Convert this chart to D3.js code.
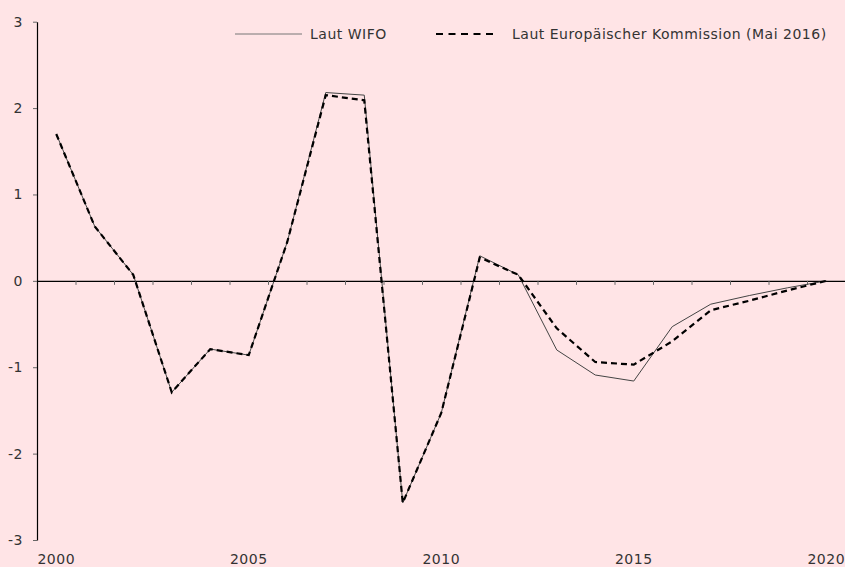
<!DOCTYPE html>
<html>
<head>
<meta charset="utf-8">
<script src="https://cdn.jsdelivr.net/npm/d3@7"></script>
<style>
  body { margin: 0; background: #FFE4E6; }
  svg { display: block; }
  text { font-family: "DejaVu Sans", sans-serif; fill: #333; letter-spacing: 0.5px; }
</style>
</head>
<body>
<div id="chart"></div>
<script>
// data
var years = [2000, 2001, 2002, 2003, 2004, 2005, 2006, 2007, 2008, 2009, 2010,
             2011, 2012, 2013, 2014, 2015, 2016, 2017, 2018, 2019, 2020];
var wifo = [1.70, 0.63, 0.07, -1.29, -0.79, -0.86, 0.45, 2.18, 2.15, -2.57, -1.53,
            0.29, 0.07, -0.80, -1.09, -1.16, -0.53, -0.27, -0.17, -0.08, 0.00];
var ec = [1.70, 0.63, 0.07, -1.29, -0.79, -0.86, 0.45, 2.15, 2.09, -2.57, -1.53,
          0.27, 0.07, -0.55, -0.94, -0.97, -0.70, -0.34, -0.23, -0.11, 0.00];
var yTicks = [-3, -2, -1, 0, 1, 2, 3];
var xLabels = [2000, 2005, 2010, 2015, 2020];
var seriesNames = ["Laut WIFO", "Laut Europäischer Kommission (Mai 2016)"];

var width = 845, height = 567;
var margin = {left: 37, right: 845.5, top: 21.7, bottom: 540};

var svg = d3.select("#chart")
  .append("svg")
    .attr("width", width)
    .attr("height", height);

svg.append("rect")
  .attr("width", width)
  .attr("height", height)
  .attr("fill", "#FFE4E6");

// scales
var x = d3.scaleBand()
  .domain(years)
  .range([margin.left, margin.right]);

var y = d3.scaleLinear()
  .domain([-3, 3])
  .range([margin.bottom, margin.top]);

// y axis (plain hyphen for negatives like the original)
var yAxis = svg.append("g")
  .attr("transform", "translate(" + margin.left + ",0)")
  .call(d3.axisLeft(y).tickValues(yTicks).tickSize(4).tickSizeOuter(0).tickPadding(10)
    .tickFormat(function(d) { return String(d); }));
yAxis.select(".domain").attr("stroke", "#000").attr("stroke-width", 1.2);
yAxis.selectAll(".tick line").attr("stroke", "#666");
yAxis.selectAll("text").style("font-size", "14px").attr("fill", "#333");

// x axis at zero, ticks between categories
var xb = d3.scaleLinear().domain([0, years.length]).range([margin.left, margin.right]);
var xAxis = svg.append("g")
  .attr("transform", "translate(0," + y(0) + ")")
  .call(d3.axisBottom(xb).tickValues(d3.range(1, years.length + 1)).tickSize(4).tickSizeOuter(0).tickFormat(""));
xAxis.select(".domain").attr("stroke", "#000").attr("stroke-width", 1.2);
xAxis.selectAll(".tick line").attr("stroke", "#666");

// year labels at the bottom
var xLab = svg.append("g")
  .attr("transform", "translate(0," + (margin.bottom + 8) + ")")
  .call(d3.axisBottom(x).tickValues(xLabels).tickSize(0).tickPadding(6));
xLab.select(".domain").remove();
xLab.selectAll("text").style("font-size", "14px").attr("fill", "#333");

// lines
var line = d3.line()
  .x(function(d, i) { return x(years[i]) + x.bandwidth() / 2; })
  .y(function(d) { return y(d); });

svg.append("path")
  .datum(wifo)
  .attr("d", line)
  .attr("fill", "none")
  .attr("stroke", "#444")
  .attr("stroke-width", 1);

svg.append("path")
  .datum(ec)
  .attr("d", line)
  .attr("fill", "none")
  .attr("stroke", "#000")
  .attr("stroke-width", 2.2)
  .attr("stroke-dasharray", "6,4");

// legend
var leg = svg.append("g");
leg.append("line")
  .attr("x1", 235).attr("x2", 302).attr("y1", 34).attr("y2", 34)
  .attr("stroke", "#777").attr("stroke-width", 1);
leg.append("text")
  .attr("x", 310).attr("y", 39)
  .style("font-size", "14px")
  .text(seriesNames[0]);
leg.append("line")
  .attr("x1", 436).attr("x2", 497).attr("y1", 34).attr("y2", 34)
  .attr("stroke", "#000").attr("stroke-width", 2)
  .attr("stroke-dasharray", "7,5.5");
leg.append("text")
  .attr("x", 512).attr("y", 39)
  .style("font-size", "14px")
  .text(seriesNames[1]);
</script>
</body>
</html>
